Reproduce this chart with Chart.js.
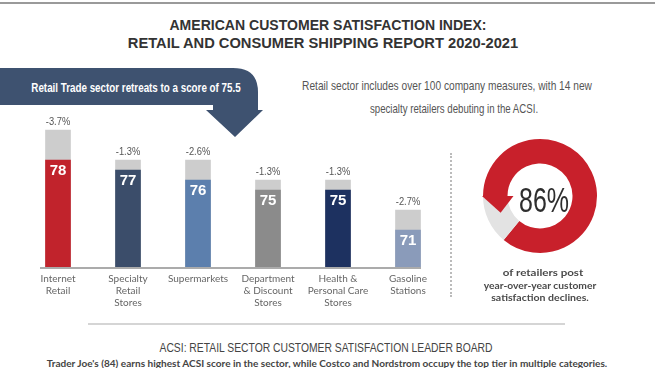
<!DOCTYPE html>
<html>
<head>
<meta charset="utf-8">
<script src="https://cdn.jsdelivr.net/npm/chart.js"></script>
<style>
  body { margin: 0; width: 655px; height: 368px; overflow: hidden; background: #fff; position: relative; font-family: Lato, sans-serif; }
  .abs { position: absolute; }
  .fit { position: absolute; white-space: nowrap; display: inline-block; line-height: 1; }
  .cond { font-family: "Liberation Sans", Arial, sans-serif; }
  #topline { left: 0; top: 2px; width: 655px; height: 2px; background: #9a9a9a; }
  .title { font-size: 14px; font-weight: bold; color: #333; }
  #banner { left: 0; top: 0; }
  #bannerText { font-size: 13px; font-weight: bold; color: #fff; }
  .note { font-size: 13px; color: #555; }
  #bars { left: 0; top: 90px; width: 450px; height: 228px; }
  #divider { left: 450px; top: 153px; height: 144px; border-left: 2px dotted #bbb; }
  #donut { left: 478px; top: 134px; width: 124px; height: 124px; }
  #pct { font-size: 35px; color: #2e2e2e; }
  .cap { font-size: 10px; font-weight: bold; color: #4a4a4a; }
  #rule { left: 88px; top: 323px; width: 477px; height: 2px; background: #d5d5d5; }
  #board1 { font-size: 13px; color: #444; }
  #board2 { font-size: 9.5px; font-weight: bold; color: #444; }
</style>
</head>
<body>
<div id="topline" class="abs"></div>
<span id="title1" class="fit cond title">AMERICAN CUSTOMER SATISFACTION INDEX:</span>
<span id="title2" class="fit cond title">RETAIL AND CONSUMER SHIPPING REPORT 2020-2021</span>

<svg id="banner" class="abs" width="280" height="140">
  <path d="M0,68 L233,68 Q258,68 258,92 L258,110 L263,110 L235,137 L206,110 L213,110 L213,105 L0,105 Z" fill="#3e5270"/>
</svg>
<span id="bannerText" class="fit cond">Retail Trade sector retreats to a score of 75.5</span>
<span id="note1" class="fit cond note">Retail sector includes over 100 company measures, with 14 new</span>
<span id="note2" class="fit cond note">specialty retailers debuting in the ACSI.</span>

<div id="bars" class="abs"><canvas id="barChart"></canvas></div>
<div id="divider" class="abs"></div>
<div id="donut" class="abs"><canvas id="donutChart"></canvas></div>
<span id="pct" class="fit cond">86%</span>
<span id="cap1" class="fit cap">of retailers post</span>
<span id="cap2" class="fit cap">year-over-year customer</span>
<span id="cap3" class="fit cap">satisfaction declines.</span>

<div id="rule" class="abs"></div>
<span id="board1" class="fit cond">ACSI: RETAIL SECTOR CUSTOMER SATISFACTION LEADER BOARD</span>
<span id="board2" class="fit">Trader Joe's (84) earns highest ACSI score in the sector, while Costco and Nordstrom occupy the top tier in multiple categories.</span>

<script>
    // Data
    const categories = [
        ['Internet', 'Retail'],
        ['Specialty', 'Retail', 'Stores'],
        ['Supermarkets'],
        ['Department', '& Discount', 'Stores'],
        ['Health &', 'Personal Care', 'Stores'],
        ['Gasoline', 'Stations']
    ];
    const scores2021 = [78, 77, 76, 75, 75, 71];
    const scores2020 = [81, 78, 78, 76, 76, 73];
    const changeLabels = ['-3.7%', '-1.3%', '-2.6%', '-1.3%', '-1.3%', '-2.7%'];
    const declineShare = [86, 14];

    const barColors = ['#c1232c', '#3b4d6a', '#5c7fad', '#8b8b8b', '#1d3160', '#8a9bba'];
    const priorColor = '#cdcdcd';

    // squeeze a text line to the width it has in the reference, centred on (cx, cy)
    function fitText(id, cx, cy, w) {
        const el = document.getElementById(id);
        const k = w / el.offsetWidth;
        el.style.left = cx + 'px';
        el.style.top = cy + 'px';
        el.style.transform = 'translate(-50%, -50%) scaleX(' + k + ')';
    }
    fitText('title1', 328, 25, 317);
    fitText('title2', 323, 43, 390);
    fitText('bannerText', 136, 87, 209);
    fitText('note1', 447, 85, 290);
    fitText('note2', 454, 108, 168);
    fitText('pct', 544, 199, 50);
    fitText('cap1', 543, 272, 81);
    fitText('cap2', 540, 285, 113);
    fitText('cap3', 540, 297, 98);
    fitText('board1', 326, 347, 333);
    fitText('board2', 327, 364, 560);

    // Baseline, score labels and change labels
    const barLabels = {
        id: 'barLabels',
        afterDatasetsDraw(chart) {
            const ctx = chart.ctx;
            const cur = chart.getDatasetMeta(0).data;
            const prev = chart.getDatasetMeta(1).data;
            const xs = chart.scales.x;
            const left = xs.getPixelForValue(0) - 18;
            const right = xs.getPixelForValue(categories.length - 1) + 13;
            ctx.save();
            ctx.fillStyle = '#ababab';
            ctx.fillRect(left, chart.chartArea.bottom - 1, right - left, 2);
            ctx.textAlign = 'center';
            ctx.textBaseline = 'middle';
            cur.forEach((bar, i) => {
                ctx.fillStyle = '#fff';
                ctx.font = 'bold 15px "Liberation Sans", Arial, sans-serif';
                ctx.fillText(scores2021[i], bar.x, bar.y + 11);
            });
            prev.forEach((bar, i) => {
                ctx.save();
                ctx.translate(bar.x, bar.y - 8);
                ctx.scale(0.85, 1);
                ctx.fillStyle = '#555';
                ctx.font = '11px "Liberation Sans", Arial, sans-serif';
                ctx.fillText(changeLabels[i], 0, 0);
                ctx.restore();
            });
            ctx.restore();
        }
    };

    new Chart(document.getElementById('barChart'), {
        type: 'bar',
        data: {
            labels: categories,
            datasets: [{
                data: scores2021,
                backgroundColor: barColors,
                barThickness: 25,
                grouped: false,
                order: 0
            }, {
                data: scores2020,
                backgroundColor: priorColor,
                barThickness: 25,
                grouped: false,
                order: 1
            }]
        },
        options: {
            responsive: true,
            maintainAspectRatio: false,
            animation: false,
            layout: { padding: { left: 23, right: 7, top: 10, bottom: 0 } },
            plugins: { legend: { display: false }, tooltip: { enabled: false } },
            scales: {
                x: {
                    grid: { display: false, drawTicks: false },
                    border: { display: false },
                    ticks: {
                        color: '#666',
                        font: { family: 'Lato, sans-serif', size: 10, lineHeight: 1.2 },
                        padding: 5,
                        autoSkip: false,
                        maxRotation: 0
                    },
                    afterFit: function(scale) { scale.height = 50; }
                },
                y: { display: false, min: 67.2, max: 84 }
            }
        },
        plugins: [barLabels]
    });

    // Arrowhead at the start of the red arc
    const arcArrow = {
        id: 'arcArrow',
        afterDatasetsDraw(chart) {
            const arc = chart.getDatasetMeta(0).data[0];
            const a = arc.startAngle;
            const rIn = arc.innerRadius - 6, rOut = arc.outerRadius + 1;
            const rMid = (arc.innerRadius + arc.outerRadius) / 2 - 2;
            const ctx = chart.ctx;
            ctx.save();
            ctx.fillStyle = '#c8202b';
            ctx.beginPath();
            ctx.moveTo(arc.x + rIn * Math.cos(a), arc.y + rIn * Math.sin(a));
            ctx.lineTo(arc.x + rOut * Math.cos(a), arc.y + rOut * Math.sin(a));
            ctx.lineTo(arc.x + rMid * Math.cos(a - 0.4), arc.y + rMid * Math.sin(a - 0.4));
            ctx.closePath();
            ctx.fill();
            ctx.restore();
        }
    };

    new Chart(document.getElementById('donutChart'), {
        type: 'doughnut',
        data: {
            labels: ['Declined', 'Other'],
            datasets: [{
                data: declineShare,
                backgroundColor: ['#c8202b', '#e3e3e3'],
                borderWidth: 0
            }]
        },
        options: {
            responsive: true,
            maintainAspectRatio: false,
            animation: false,
            rotation: 270,
            cutout: '57%',
            layout: { padding: 5 },
            plugins: { legend: { display: false }, tooltip: { enabled: false } }
        },
        plugins: [arcArrow]
    });
</script>
</body>
</html>
